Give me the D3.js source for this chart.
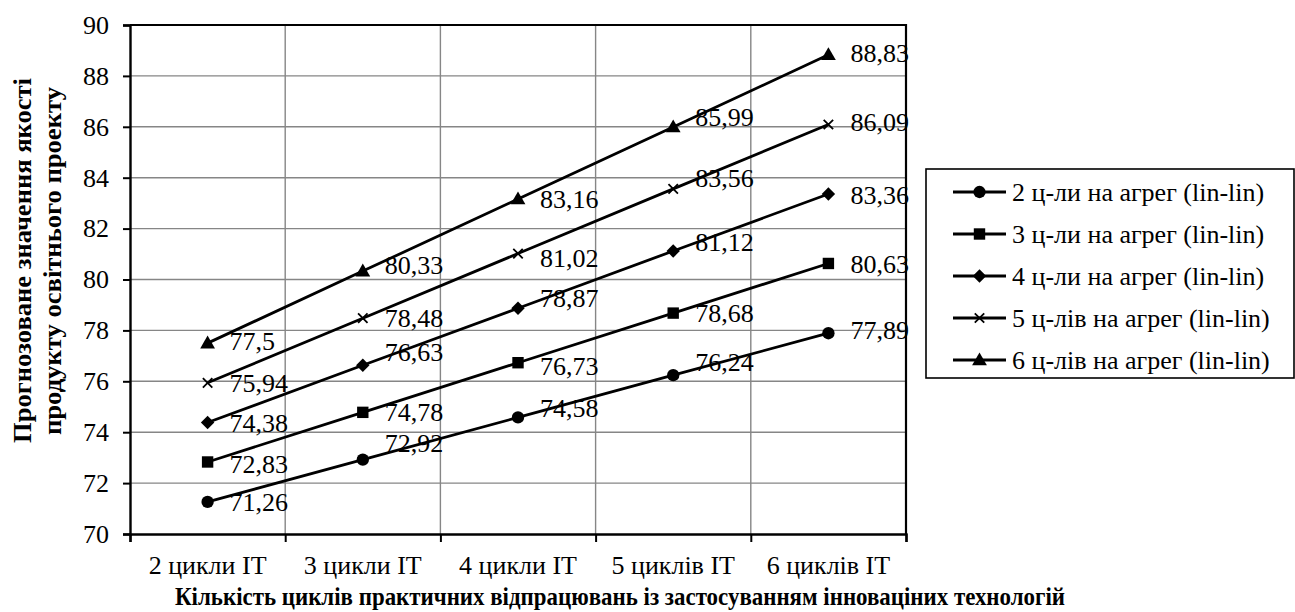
<!DOCTYPE html>
<html>
<head>
<meta charset="utf-8">
<script src="https://cdn.jsdelivr.net/npm/d3@7"></script>
<style>
  html, body { margin: 0; padding: 0; background: #fff; }
  svg { display: block; }
</style>
</head>
<body>
<svg id="chart" width="1295" height="612" font-family="Liberation Serif"></svg>
<script>
// Categories along the x axis
const categories = ["2 цикли ІТ", "3 цикли ІТ", "4 цикли ІТ", "5 циклів ІТ", "6 циклів ІТ"];

// Series names (legend)
const seriesNames = [
  "2 ц-ли на агрег (lin-lin)",
  "3 ц-ли на агрег (lin-lin)",
  "4 ц-ли на агрег (lin-lin)",
  "5 ц-лів на агрег (lin-lin)",
  "6 ц-лів на агрег (lin-lin)"
];

// Forecast values per series
const values2 = [71.26, 72.92, 74.58, 76.24, 77.89];
const values3 = [72.83, 74.78, 76.73, 78.68, 80.63];
const values4 = [74.38, 76.63, 78.87, 81.12, 83.36];
const values5 = [75.94, 78.48, 81.02, 83.56, 86.09];
const values6 = [77.5, 80.33, 83.16, 85.99, 88.83];

// Y axis tick values
const yTicks = [70, 72, 74, 76, 78, 80, 82, 84, 86, 88, 90];

// Marker kinds for each series
const markers = ["circle", "square", "diamond", "cross", "triangle"];

// Vertical nudges of the value labels, so they don't collide
const labelNudge = [
  [0, -17, -10, -13, -3],
  [2, 0, 3, 0, 0],
  [0, -13, -10, -9, 1],
  [0, 0, 4, -11, -3],
  [-2, -6, 0, -10, -2]
];

const series = [values2, values3, values4, values5, values6].map((vals, i) => ({
  name: seriesNames[i], values: vals, marker: markers[i], nudge: labelNudge[i]
}));

const SERIF = "Liberation Serif";
const FONT = 26;
const svg = d3.select("#chart").style("font-family", SERIF);
const plot = { left: 130, right: 906, top: 25, bottom: 534 };

const x = d3.scaleBand().domain(categories).range([plot.left, plot.right]).padding(0);
const xEdge = d3.scaleLinear().domain([0, categories.length]).range([plot.left, plot.right]);
const y = d3.scaleLinear().domain([70, 90]).range([plot.bottom, plot.top]);

const locale = d3.formatLocale({ decimal: ",", thousands: " ", grouping: [3], currency: ["", ""] });
const fmt = locale.format("");

function serifText(sel, size, weight) {
  return sel.attr("font-family", SERIF).attr("font-size", size)
    .attr("font-weight", weight || "normal").attr("fill", "#000")
    .style("font-family", SERIF).style("font-size", size + "px")
    .style("font-weight", weight || "normal");
}

// Gridlines
const grid = svg.append("g").attr("stroke", "#868686").attr("stroke-width", 1.4);
grid.selectAll("line.h").data(yTicks.filter(t => t > 70 && t < 90)).join("line")
  .attr("x1", plot.left).attr("x2", plot.right)
  .attr("y1", d => y(d)).attr("y2", d => y(d));
grid.selectAll("line.v").data(d3.range(1, categories.length)).join("line")
  .attr("x1", d => xEdge(d)).attr("x2", d => xEdge(d))
  .attr("y1", plot.top).attr("y2", plot.bottom);

// Plot area frame (top and right)
svg.append("path")
  .attr("d", `M${plot.left},${plot.top}H${plot.right}V${plot.bottom}`)
  .attr("fill", "none").attr("stroke", "#000").attr("stroke-width", 2.2);

// Y axis
const yAxis = svg.append("g").attr("transform", `translate(${plot.left},0)`)
  .call(d3.axisLeft(y).tickValues(yTicks).tickSize(7).tickPadding(14).tickFormat(d3.format("d")))
  .attr("font-family", SERIF).attr("font-size", FONT);
yAxis.select(".domain").attr("stroke-width", 2.4);
yAxis.selectAll(".tick line").attr("stroke-width", 2);
serifText(yAxis.selectAll("text"), FONT);

// X axis: tick marks on category boundaries, labels centered in the bands
const xAxis = svg.append("g").attr("transform", `translate(0,${plot.bottom})`)
  .call(d3.axisBottom(xEdge).tickValues(d3.range(0, categories.length + 1)).tickSize(8).tickFormat(""));
xAxis.select(".domain").attr("stroke-width", 2.4);
xAxis.selectAll(".tick line").attr("stroke-width", 2);
const xLabels = svg.append("g").attr("transform", `translate(0,${plot.bottom})`)
  .call(d3.axisBottom(x).tickSize(0).tickPadding(22))
  .attr("font-family", SERIF).attr("font-size", FONT);
xLabels.select(".domain").remove();
serifText(xLabels.selectAll("text"), FONT);

// Axis titles (fitted to their measured extents)
serifText(svg.append("text")
  .attr("x", 175).attr("y", 605)
  .attr("text-anchor", "start")
  .attr("textLength", 890).attr("lengthAdjust", "spacingAndGlyphs")
  .text("Кількість циклів практичних відпрацювань із застосуванням інноваціних технологій"), 26, "bold");

const yTitle = svg.append("g").attr("transform", "rotate(-90)");
serifText(yTitle.append("text").attr("x", -443).attr("y", 31).attr("text-anchor", "start")
  .attr("textLength", 365).attr("lengthAdjust", "spacingAndGlyphs")
  .text("Прогнозоване значення якості"), 26, "bold");
serifText(yTitle.append("text").attr("x", -435).attr("y", 61).attr("text-anchor", "start")
  .attr("textLength", 348).attr("lengthAdjust", "spacingAndGlyphs")
  .text("продукту освітнього проекту"), 26, "bold");

// Marker drawing
function drawMarker(sel, kind) {
  if (kind === "circle") {
    sel.append("path").attr("d", d3.symbol(d3.symbolCircle, 120)()).attr("fill", "#000");
  } else if (kind === "square") {
    sel.append("path").attr("d", d3.symbol(d3.symbolSquare, 130)()).attr("fill", "#000");
  } else if (kind === "diamond") {
    sel.append("path").attr("d", d3.symbol(d3.symbolSquare, 90)()).attr("transform", "rotate(45)").attr("fill", "#000");
  } else if (kind === "triangle") {
    sel.append("path").attr("d", d3.symbol(d3.symbolTriangle, 95)()).attr("transform", "translate(0,1)").attr("fill", "#000");
  } else if (kind === "cross") {
    sel.append("path").attr("d", d3.symbol(d3.symbolX, 60)()).attr("fill", "none").attr("stroke", "#000").attr("stroke-width", 1.8);
  }
}

const line = d3.line().x((d, i) => x(categories[i]) + x.bandwidth() / 2).y(d => y(d));

const sG = svg.append("g").selectAll("g.series").data(series).join("g");
sG.append("path").attr("d", d => line(d.values))
  .attr("fill", "none").attr("stroke", "#000").attr("stroke-width", 2.8);
sG.each(function (s) {
  const g = d3.select(this);
  s.values.forEach((v, i) => {
    const cx = x(categories[i]) + x.bandwidth() / 2, cy = y(v);
    drawMarker(g.append("g").attr("transform", `translate(${cx},${cy})`), s.marker);
  });
  serifText(g.selectAll("text.lbl").data(s.values).join("text")
    .attr("x", (v, i) => x(categories[i]) + x.bandwidth() / 2 + 22)
    .attr("y", (v, i) => y(v) + s.nudge[i])
    .attr("dy", "0.35em")
    .text(v => fmt(v)), FONT);
});

// Legend
const lg = { x: 926, y: 169, w: 368, h: 209, row0: 192, step: 42 };
svg.append("rect").attr("x", lg.x).attr("y", lg.y).attr("width", lg.w).attr("height", lg.h)
  .attr("fill", "#fff").attr("stroke", "#000").attr("stroke-width", 1.6);
const items = svg.append("g").selectAll("g").data(series).join("g")
  .attr("transform", (d, i) => `translate(953,${lg.row0 + i * lg.step})`);
items.append("line").attr("x1", 0).attr("x2", 53).attr("stroke", "#000").attr("stroke-width", 2.8);
items.each(function (s) { drawMarker(d3.select(this).append("g").attr("transform", "translate(26.5,0)"), s.marker); });
serifText(items.append("text").attr("x", 59).attr("dy", "0.35em").text(d => d.name), FONT);
</script>
</body>
</html>
